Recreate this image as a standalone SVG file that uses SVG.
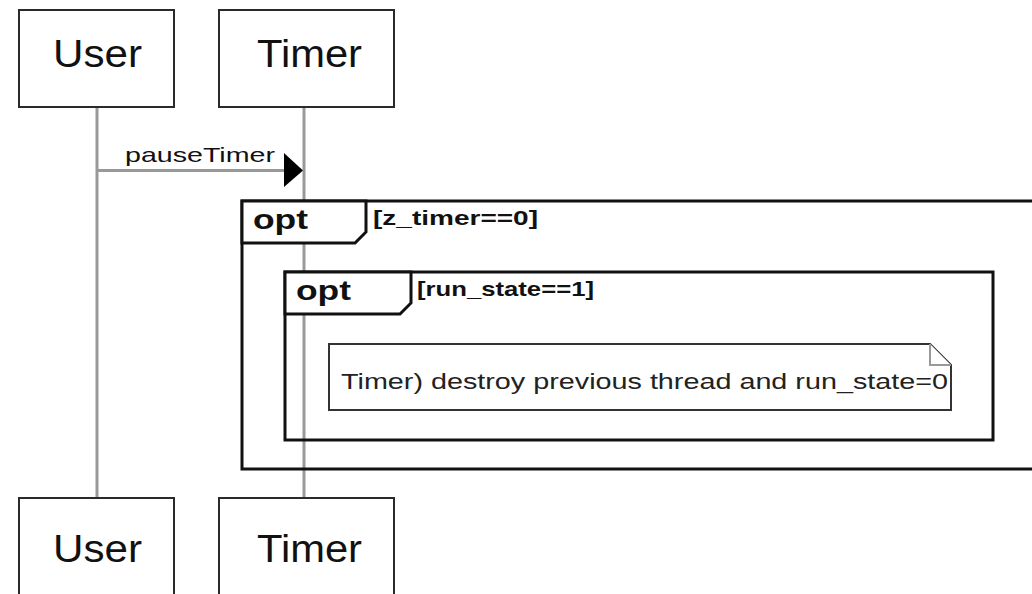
<svg xmlns="http://www.w3.org/2000/svg" width="1032" height="594" viewBox="0 0 1032 594">
<style>
.bg{fill:#ffffff}
.part{fill:#ffffff;stroke:#2a2a2a;stroke-width:2}
.ptext{font-family:"Liberation Sans",Arial,sans-serif;font-size:38px;fill:#111}
.life{stroke:#999;stroke-width:3;fill:none}
.msg{stroke:#999;stroke-width:3;fill:none}
.mtext{font-family:"Liberation Sans",Arial,sans-serif;font-size:21px;fill:#111}
.frame{fill:none;stroke:#111;stroke-width:3}
.tab{fill:#ffffff;stroke:#111;stroke-width:3}
.ftitle{font-family:"Liberation Sans",Arial,sans-serif;font-size:28px;font-weight:bold;fill:#111}
.cond{font-family:"Liberation Sans",Arial,sans-serif;font-size:21px;font-weight:bold;fill:#111}
.note{fill:#ffffff;stroke:#333;stroke-width:2}
.fold{fill:#ffffff;stroke:#999;stroke-width:2}
.ntext{font-family:"Liberation Sans",Arial,sans-serif;font-size:22px;fill:#222}
</style>
<rect class="bg" x="0" y="0" width="1032" height="594"/>
<g id="connectors">
<line class="life" x1="97" y1="107" x2="97" y2="498"/>
<line class="life" x1="304" y1="107" x2="304" y2="498"/>
<line class="msg" x1="97" y1="170.5" x2="290" y2="170.5"/>
<polygon points="284,153 303,170.5 284,187" fill="#000"/>
<text class="mtext" x="125" y="162" textLength="150" lengthAdjust="spacingAndGlyphs">pauseTimer</text>
</g>
<g id="frame-outer">
<rect class="frame" x="242" y="201" width="800" height="268"/>
<path class="tab" d="M242,201 H366 V232 L355,243 H242 Z"/>
<text class="ftitle" x="253" y="229" textLength="55" lengthAdjust="spacingAndGlyphs">opt</text>
<text class="cond" x="373" y="225" textLength="165" lengthAdjust="spacingAndGlyphs">[z_timer==0]</text>
</g>
<g id="frame-inner">
<rect class="frame" x="285" y="272" width="708" height="168"/>
<path class="tab" d="M285,272 H411 V303 L400,314 H285 Z"/>
<text class="ftitle" x="296" y="300" textLength="55" lengthAdjust="spacingAndGlyphs">opt</text>
<text class="cond" x="417" y="296" textLength="177" lengthAdjust="spacingAndGlyphs">[run_state==1]</text>
</g>
<g id="note">
<path class="note" d="M329,344 H930 L951,365 V410 H329 Z"/>
<path class="fold" d="M930,344 V365 H951"/>
<text class="ntext" x="341" y="389" textLength="607" lengthAdjust="spacingAndGlyphs">Timer) destroy previous thread and run_state=0</text>
</g>
<g id="user-top">
<rect class="part" x="19" y="10" width="155" height="97"/>
<text class="ptext" x="53" y="67" textLength="89" lengthAdjust="spacingAndGlyphs">User</text>
</g>
<g id="timer-top">
<rect class="part" x="219" y="10" width="175" height="97"/>
<text class="ptext" x="257" y="67" textLength="105" lengthAdjust="spacingAndGlyphs">Timer</text>
</g>
<g id="user-bottom">
<rect class="part" x="19" y="498" width="155" height="110"/>
<text class="ptext" x="53" y="562" textLength="89" lengthAdjust="spacingAndGlyphs">User</text>
</g>
<g id="timer-bottom">
<rect class="part" x="219" y="498" width="175" height="110"/>
<text class="ptext" x="257" y="562" textLength="105" lengthAdjust="spacingAndGlyphs">Timer</text>
</g>
</svg>
